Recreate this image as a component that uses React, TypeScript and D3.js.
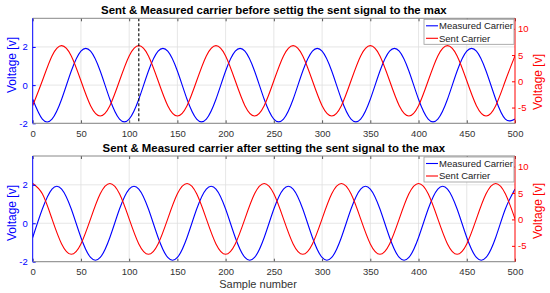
import React, { useEffect, useRef } from 'react';
import * as d3 from 'd3';

// sample index of every stored value (one value every 10 samples)
const samples = d3.range(0, 501, 10);
const xTicks = [0, 50, 100, 150, 200, 250, 300, 350, 400, 450, 500];
const leftTicks = [-2, 0, 2];
const rightTicks = [-5, 0, 5, 10];

// values, left axis [v]
const measuredBefore = [
  -0.74, -1.78, -1.78, -0.74, 0.74, 1.78, 1.78, 0.74,
  -0.74, -1.78, -1.78, -0.74, 0.74, 1.78, 1.78, 0.74,
  -0.74, -1.78, -1.78, -0.74, 0.74, 1.78, 1.78, 0.74,
  -0.74, -1.78, -1.78, -0.74, 0.74, 1.78, 1.78, 0.74,
  -0.74, -1.78, -1.78, -0.74, 0.74, 1.78, 1.78, 0.74,
  -0.74, -1.78, -1.78, -0.74, 0.74, 1.78, 1.78, 0.74,
  -0.74, -1.78, -1.78
];
// right axis [v]
const sentBefore = [
  -4.64, 0.1, 4.84, 6.8, 4.84, 0.1, -4.64, -6.6,
  -4.64, 0.1, 4.84, 6.8, 4.84, 0.1, -4.64, -6.6,
  -4.64, 0.1, 4.84, 6.8, 4.84, 0.1, -4.64, -6.6,
  -4.64, 0.1, 4.84, 6.8, 4.84, 0.1, -4.64, -6.6,
  -4.64, 0.1, 4.84, 6.8, 4.84, 0.1, -4.64, -6.6,
  -4.64, 0.1, 4.84, 6.8, 4.84, 0.1, -4.64, -6.6,
  -4.64, 0.1, 4.84
];
const measuredAfter = [
  -0.74, 0.74, 1.78, 1.78, 0.74, -0.74, -1.78, -1.78,
  -0.74, 0.74, 1.78, 1.78, 0.74, -0.74, -1.78, -1.78,
  -0.74, 0.74, 1.78, 1.78, 0.74, -0.74, -1.78, -1.78,
  -0.74, 0.74, 1.78, 1.78, 0.74, -0.74, -1.78, -1.78,
  -0.74, 0.74, 1.78, 1.78, 0.74, -0.74, -1.78, -1.78,
  -0.74, 0.74, 1.78, 1.78, 0.74, -0.74, -1.78, -1.78,
  -0.74, 0.74, 1.78
];
const sentAfter = [
  6.8, 4.84, 0.1, -4.64, -6.6, -4.64, 0.1, 4.84,
  6.8, 4.84, 0.1, -4.64, -6.6, -4.64, 0.1, 4.84,
  6.8, 4.84, 0.1, -4.64, -6.6, -4.64, 0.1, 4.84,
  6.8, 4.84, 0.1, -4.64, -6.6, -4.64, 0.1, 4.84,
  6.8, 4.84, 0.1, -4.64, -6.6, -4.64, 0.1, 4.84,
  6.8, 4.84, 0.1, -4.64, -6.6, -4.64, 0.1, 4.84,
  6.8, 4.84, 0.1
];

const markerSample = 110;
const titles = [
  'Sent & Measured carrier before settig the sent signal to the max',
  'Sent & Measured carrier after setting the sent signal to the max'
];
const legendLabels = ['Measured Carrier', 'Sent Carrier'];

const BLUE = '#0000ff';
const RED = '#ff0000';
const FONT = '"Liberation Sans", Arial, sans-serif';

const App = () => {
  const svgRef = useRef<SVGSVGElement>(null);

  useEffect(() => {
    const svg = d3.select(svgRef.current);
    svg.selectAll('*').remove();

    const left = 32.7;
    const right = 515;
    const x = d3.scaleLinear().domain([0, 500]).range([left, right]);

    const drawPanel = (
      top: number,
      bottom: number,
      measured: number[],
      sent: number[],
      title: string,
      idx: number,
      leftLabelY: number,
      rightLabelY: number
    ) => {
      const yL = d3.scaleLinear().domain([-2, 3.5]).range([bottom, top]);
      const yR = d3.scaleLinear().domain([-8, 12]).range([bottom, top]);
      const g = svg.append('g');

      g.append('rect')
        .attr('x', left).attr('y', top)
        .attr('width', right - left).attr('height', bottom - top)
        .attr('fill', '#fff');

      // grid
      g.selectAll('.vgrid')
        .data(xTicks.slice(1, -1))
        .enter().append('line')
        .attr('x1', (d) => x(d)).attr('x2', (d) => x(d))
        .attr('y1', top).attr('y2', bottom)
        .attr('stroke', '#e0e0e0').attr('stroke-width', 0.8);
      g.selectAll('.hgrid')
        .data(leftTicks)
        .enter().append('line')
        .attr('x1', left).attr('x2', right)
        .attr('y1', (d) => yL(d)).attr('y2', (d) => yL(d))
        .attr('stroke', '#e0e0e0').attr('stroke-width', 0.8);

      const clipId = `clip${idx}`;
      g.append('clipPath').attr('id', clipId)
        .append('rect')
        .attr('x', left).attr('y', top)
        .attr('width', right - left).attr('height', bottom - top);

      const lineL = d3.line<number>()
        .x((_, i) => x(samples[i]))
        .y((d) => yL(d))
        .curve(d3.curveNatural);
      const lineR = d3.line<number>()
        .x((_, i) => x(samples[i]))
        .y((d) => yR(d))
        .curve(d3.curveNatural);

      const plot = g.append('g').attr('clip-path', `url(#${clipId})`);
      plot.append('path').datum(measured)
        .attr('d', lineL).attr('fill', 'none')
        .attr('stroke', BLUE).attr('stroke-width', 1.1);
      plot.append('path').datum(sent)
        .attr('d', lineR).attr('fill', 'none')
        .attr('stroke', RED).attr('stroke-width', 1.1);

      if (idx === 0) {
        plot.append('line')
          .attr('x1', x(markerSample)).attr('x2', x(markerSample))
          .attr('y1', top).attr('y2', bottom)
          .attr('stroke', '#000').attr('stroke-width', 1.1)
          .attr('stroke-dasharray', '3,2');
      }

      // axes
      const xb = g.append('g')
        .attr('transform', `translate(0,${bottom})`)
        .call(d3.axisBottom(x).tickValues(xTicks).tickSize(-3).tickPadding(6.5));
      xb.select('.domain').remove();
      xb.selectAll('line').attr('stroke', '#555');
      xb.selectAll('text')
        .attr('fill', '#333').style('font-family', FONT).style('font-size', '9.5px');

      const xt = g.append('g')
        .attr('transform', `translate(0,${top})`)
        .call(d3.axisTop(x).tickValues(xTicks).tickSize(-3).tickFormat(() => ''));
      xt.select('.domain').remove();
      xt.selectAll('line').attr('stroke', '#555');

      const yl = g.append('g')
        .attr('transform', `translate(${left},0)`)
        .call(d3.axisLeft(yL).tickValues(leftTicks).tickSize(-3).tickPadding(5)
          .tickFormat((d) => String(d)));
      yl.select('.domain').remove();
      yl.selectAll('line').attr('stroke', BLUE);
      yl.selectAll('text')
        .attr('fill', BLUE).style('font-family', FONT).style('font-size', '9.5px');

      const yr = g.append('g')
        .attr('transform', `translate(${right},0)`)
        .call(d3.axisRight(yR).tickValues(rightTicks).tickSize(-3).tickPadding(3)
          .tickFormat((d) => String(d)));
      yr.select('.domain').remove();
      yr.selectAll('line').attr('stroke', RED);
      yr.selectAll('text')
        .attr('fill', RED).style('font-family', FONT).style('font-size', '9.5px');

      // box
      g.append('line').attr('x1', left).attr('x2', right).attr('y1', top).attr('y2', top)
        .attr('stroke', '#888').attr('stroke-width', 1);
      g.append('line').attr('x1', left).attr('x2', right).attr('y1', bottom).attr('y2', bottom)
        .attr('stroke', '#888').attr('stroke-width', 1);
      g.append('line').attr('x1', left).attr('x2', left).attr('y1', top).attr('y2', bottom)
        .attr('stroke', BLUE).attr('stroke-width', 1);
      g.append('line').attr('x1', right).attr('x2', right).attr('y1', top).attr('y2', bottom)
        .attr('stroke', RED).attr('stroke-width', 1);

      // title
      g.append('text')
        .attr('x', (left + right) / 2).attr('y', top - 4.5)
        .attr('text-anchor', 'middle')
        .style('font-family', FONT).style('font-size', '11.4px').style('font-weight', 'bold')
        .attr('fill', '#000')
        .text(title);

      // y labels
      g.append('text')
        .attr('transform', `translate(16,${leftLabelY}) rotate(-90)`)
        .attr('text-anchor', 'middle')
        .style('font-family', FONT).style('font-size', '12px')
        .attr('fill', BLUE)
        .text('Voltage [v]');
      g.append('text')
        .attr('transform', `translate(542,${rightLabelY}) rotate(-90)`)
        .attr('text-anchor', 'middle')
        .style('font-family', FONT).style('font-size', '12px')
        .attr('fill', RED)
        .text('Voltage [v]');

      // legend
      const lg = g.append('g').attr('transform', `translate(424,${top + 1})`);
      lg.append('rect')
        .attr('width', 90).attr('height', 25)
        .attr('fill', '#fff').attr('stroke', '#999').attr('stroke-width', 0.8);
      const colors = [BLUE, RED];
      legendLabels.forEach((label, i) => {
        const ly = 6.5 + i * 12.5;
        lg.append('line')
          .attr('x1', 2).attr('x2', 14).attr('y1', ly).attr('y2', ly)
          .attr('stroke', colors[i]).attr('stroke-width', 1.1);
        lg.append('text')
          .attr('x', 15).attr('y', ly + 3.4)
          .style('font-family', FONT).style('font-size', '9.5px')
          .attr('fill', '#222')
          .text(label);
      });
    };

    drawPanel(18.3, 123.3, measuredBefore, sentBefore, titles[0], 0, 65, 82);
    drawPanel(156, 261.7, measuredAfter, sentAfter, titles[1], 1, 213, 211);

    svg.append('text')
      .attr('x', 258).attr('y', 287.5)
      .attr('text-anchor', 'middle')
      .style('font-family', FONT).style('font-size', '11px')
      .attr('fill', '#333')
      .text('Sample number');
  }, []);

  return (
    <svg
      ref={svgRef}
      width={550}
      height={293}
      style={{ position: 'absolute', left: 0, top: 0, background: '#fff' }}
    ></svg>
  );
};

export default App;
